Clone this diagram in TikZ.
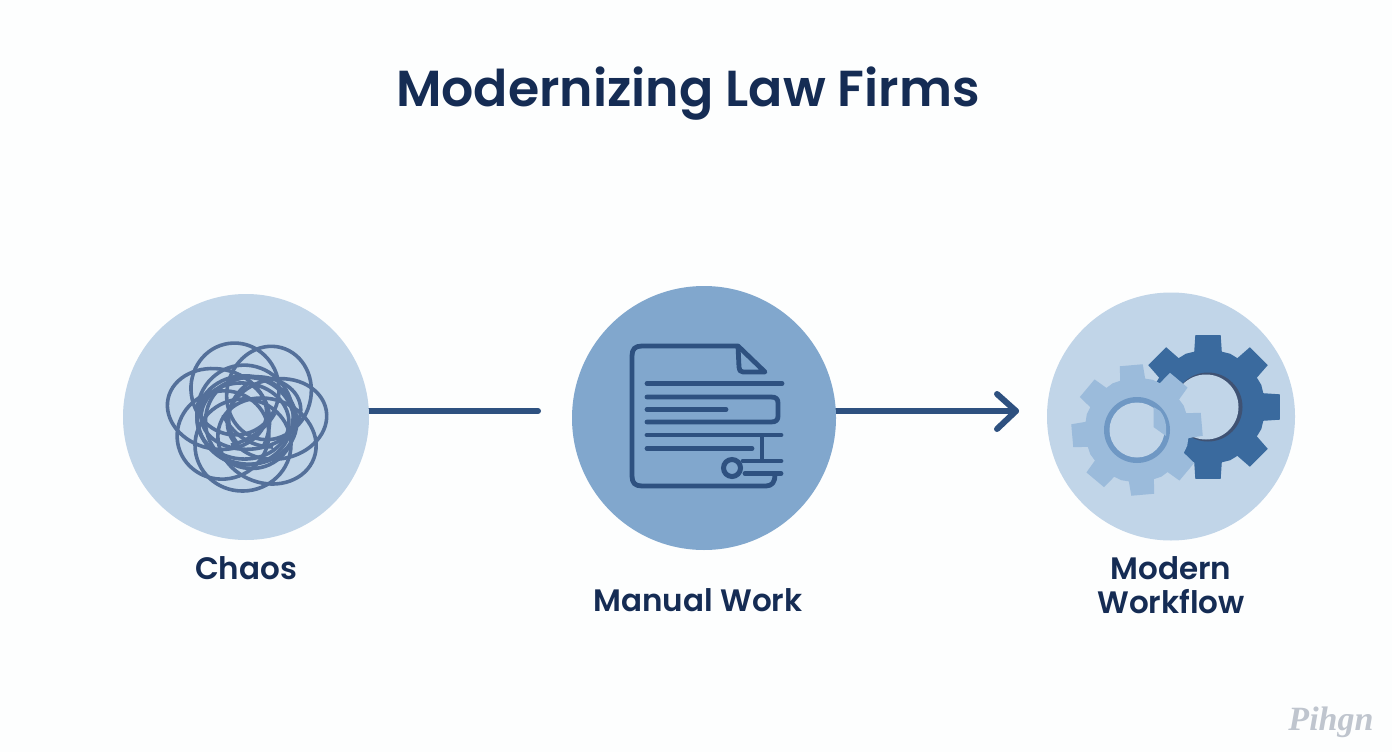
\documentclass[tikz,border=0pt]{standalone}
\usepackage{fontspec}
\usetikzlibrary{backgrounds}
\setmainfont{Poppins}[BoldFont={Poppins SemiBold}]
\newfontfamily\markfont{Liberation Serif}
\definecolor{pagebg}{HTML}{FDFEFE}
\definecolor{ink}{HTML}{152C54}
\definecolor{paleblue}{HTML}{C1D5E8}
\definecolor{midblue}{HTML}{81A7CD}
\definecolor{linkblue}{HTML}{2E5180}
\definecolor{scribble}{HTML}{54709A}
\definecolor{geardark}{HTML}{3A6A9E}
\definecolor{gearlight}{HTML}{9BBBDB}
\definecolor{gearring}{HTML}{6F98C4}
\definecolor{gearshade}{HTML}{3F5273}
\definecolor{mark}{HTML}{BFC5CE}
\tikzset{
  disc/.style={circle,inner sep=0pt,draw=none},
  caption/.style={text=ink,font=\bfseries\fontsize{31}{36}\selectfont,align=center,inner sep=0pt},
  link/.style={draw=linkblue,line width=6pt,line cap=round,line join=round},
  docline/.style={draw=linkblue,line width=4.8pt,line cap=round,line join=round},
  knot/.style={draw=scribble,line width=3.6pt}
}
\newcommand{\gearshape}[6]{% color, cx, cy, Rout, Rroot, phase
  \fill[#1,shift={(#2,#3)}] (#6-14:#5)
    \foreach \k in {0,...,7}{
      -- ({#6+45*\k-14}:#5) -- ({#6+45*\k-10}:#4) -- ({#6+45*\k+10}:#4) -- ({#6+45*\k+14}:#5) -- ({#6+45*\k+22.5}:{#5*1.012})
    } -- cycle;
}
\begin{document}
\begin{tikzpicture}[x=1pt,y=-1pt]
\useasboundingbox (0,0) rectangle (1392,752);
\node[text=ink,font=\bfseries\fontsize{50.6}{56}\selectfont,inner sep=0pt] (title) at (688,94) {Modernizing Law Firms};
\coordinate (gapend) at (538,411);
\coordinate (tip) at (1016,411);
\node[disc,fill=paleblue,minimum size=246pt] (chaos) at (246,417) {};
\node[disc,fill=midblue,minimum size=264pt] (manual) at (704,418) {};
\node[disc,fill=paleblue,minimum size=248pt] (modern) at (1171,416.5) {};
\begin{pgfonlayer}{background}
\fill[pagebg] (0,0) rectangle (1392,752);
\draw[link] (gapend -| chaos.center) -- (gapend);
\draw[link] (tip -| manual.center) -- (tip);
\end{pgfonlayer}
\draw[link] (997,394) -- (tip) -- (997,429);
\node[caption] (l1) at (246,568) {Chaos};
\node[caption] (l2) at (698,600) {Manual Work};
\node[caption] (l3) at (1171,585) {Modern\\[-2pt]Workflow};
\node[text=mark,font=\markfont\itshape\bfseries\fontsize{34}{34}\selectfont,inner sep=0pt] (wm) at (1331,722) {Pihgn};
% chaos scribble
\begin{scope}[shift={(247,417)}]
  % irregular outer lobes
  \foreach \dx/\dy/\rx/\ry/\r in {-30/-8/50/40/-12,-12/-28/44/46/8,22/-24/42/47/-15,30/2/50/40/10,
     20/24/50/42/-20,-4/28/48/46/6,-24/18/46/44/15}{
    \draw[knot,shift={(\dx,\dy)},rotate=\r] (0,0) ellipse [x radius=\rx,y radius=\ry];
  }
  % dense rings
  \foreach \dx/\dy/\rx/\ry/\r in {0/3/50/44/-10,-2/-2/48/50/14,3/6/44/46/30,-4/4/46/38/-5,4/-4/50/36/8}{
    \draw[knot,shift={(\dx,\dy)},rotate=\r] (0,0) ellipse [x radius=\rx,y radius=\ry];
  }
  % almond and crossing strands in the clear centre
  \draw[knot] (2,-34) .. controls (-22,-18) and (-24,12) .. (-8,28);
  \draw[knot] (2,-34) .. controls (24,-20) and (28,6) .. (16,30);
  \draw[knot] (-24,-2) .. controls (-14,18) and (4,30) .. (26,30);
  \draw[knot] (-16,28) .. controls (0,24) and (18,14) .. (28,-4);
\end{scope}
% document icon
\draw[docline] (775,475) .. controls (775,482) and (772,486) .. (766,486) -- (642,486)
  .. controls (635,486) and (632,483) .. (632,476) -- (632,356)
  .. controls (632,349) and (635,346) .. (642,346) -- (738,346) -- (765,372) -- (743,372)
  .. controls (740,372) and (739,370) .. (739,367) -- (738,346);
\draw[docline] (647,383.5) -- (782,383.5);
\draw[docline] (647,397) -- (771,397) .. controls (776,397) and (778,399) .. (778,403) -- (778,416)
  .. controls (778,420) and (776,422) .. (771,422) -- (647,422);
\draw[docline] (647,409.5) -- (726,409.5);
\draw[docline] (647,435) -- (781,435);
\draw[docline] (647,448.5) -- (752,448.5);
\draw[docline,line cap=butt] (762,435) -- (762,461);
\draw[docline] (743,461) -- (781,461);
\draw[docline] (745,473.5) -- (781,473.5);
\draw[draw=linkblue,line width=5pt] (732,468) circle [radius=8.5];
% gears
\gearshape{geardark}{1208}{407}{73}{57}{0}
\fill[gearshade] (1208,407) circle [radius=34.5];
\fill[paleblue] (1206,407) circle [radius=32.5];
\gearshape{gearlight}{1137}{430}{66}{52}{-5}
\fill[gearring] (1137,430) circle [radius=33];
\fill[paleblue] (1137,430) circle [radius=27.5];
\fill[gearlight] (1153.5,407) -- (1153.5,427) -- (1166,436) .. controls (1167,425) and (1165,417) .. (1160,411) -- cycle;
\end{tikzpicture}
\end{document}
